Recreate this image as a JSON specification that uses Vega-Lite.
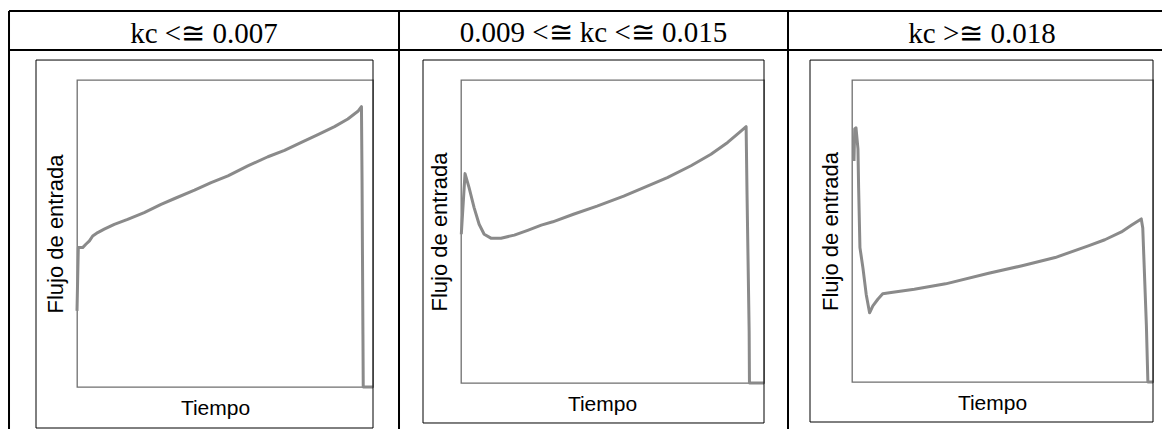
{
  "$schema": "https://vega.github.io/schema/vega-lite/v6.json",
  "padding": {"left": 7, "top": 9, "right": 0, "bottom": 0},
  "bounds": "flush",
  "spacing": 88,
  "background": "white",
  "config": {
    "view": {"stroke": "#6f6f6f", "strokeWidth": 1.3},
    "axis": {"grid": false, "titleFont": "Liberation Sans", "titleFontSize": 21, "titleFontWeight": "normal", "titleColor": "#000000", "titlePadding": 10},
    "axisY": {"titleFontSize": 22}
  },
  "datasets": {
    "bajo": [
      {"t": 0.0, "f": 24.8}, {"t": 0.44, "f": 45.4}, {"t": 1.9, "f": 45.4}, {"t": 3.0, "f": 46.5}, {"t": 4.2, "f": 47.6}, {"t": 5.3, "f": 49.2}, {"t": 7.0, "f": 50.3}, {"t": 9.2, "f": 51.4}, {"t": 12.6, "f": 53.0}, {"t": 17.1, "f": 54.6}, {"t": 22.7, "f": 56.8}, {"t": 28.4, "f": 59.5}, {"t": 33.0, "f": 61.4}, {"t": 39.7, "f": 64.1}, {"t": 45.3, "f": 66.6}, {"t": 51.0, "f": 68.8}, {"t": 57.7, "f": 72.0}, {"t": 64.5, "f": 75.0}, {"t": 70.1, "f": 77.1}, {"t": 75.8, "f": 79.7}, {"t": 81.4, "f": 82.2}, {"t": 87.0, "f": 84.8}, {"t": 91.5, "f": 87.3}, {"t": 94.9, "f": 89.8}, {"t": 96.1, "f": 91.3}, {"t": 96.3, "f": 67.1}, {"t": 96.6, "f": 17.1}, {"t": 96.7, "f": 0}, {"t": 100, "f": 0}
    ],
    "medio": [
      {"t": 0.1, "f": 49.1}, {"t": 1.33, "f": 69.1}, {"t": 2.66, "f": 64.5}, {"t": 4.32, "f": 57.9}, {"t": 5.98, "f": 52.4}, {"t": 7.64, "f": 49.1}, {"t": 9.87, "f": 47.8}, {"t": 13.2, "f": 47.8}, {"t": 17.6, "f": 48.8}, {"t": 22.0, "f": 50.4}, {"t": 26.5, "f": 52.1}, {"t": 30.3, "f": 53.2}, {"t": 37.1, "f": 55.7}, {"t": 44.9, "f": 58.4}, {"t": 53.7, "f": 61.7}, {"t": 61.5, "f": 65.0}, {"t": 68.1, "f": 67.8}, {"t": 75.9, "f": 71.7}, {"t": 82.5, "f": 75.5}, {"t": 88.0, "f": 79.4}, {"t": 91.9, "f": 82.7}, {"t": 94.1, "f": 84.6}, {"t": 94.4, "f": 62.3}, {"t": 95.1, "f": 17.1}, {"t": 95.2, "f": 0}, {"t": 100, "f": 0}
    ],
    "alto": [
      {"t": 0.66, "f": 73.2}, {"t": 0.9, "f": 83.8}, {"t": 1.32, "f": 84.2}, {"t": 1.98, "f": 77.2}, {"t": 2.2, "f": 64.3}, {"t": 2.64, "f": 44.5}, {"t": 3.63, "f": 37.8}, {"t": 4.72, "f": 29.0}, {"t": 5.84, "f": 22.9}, {"t": 6.93, "f": 25.2}, {"t": 8.58, "f": 27.4}, {"t": 10.2, "f": 29.2}, {"t": 13.0, "f": 29.6}, {"t": 20.7, "f": 30.7}, {"t": 31.1, "f": 32.5}, {"t": 45.4, "f": 36.0}, {"t": 56.5, "f": 38.5}, {"t": 67.5, "f": 41.2}, {"t": 78.5, "f": 45.1}, {"t": 84.0, "f": 47.1}, {"t": 89.5, "f": 49.7}, {"t": 92.8, "f": 51.9}, {"t": 96.1, "f": 54.0}, {"t": 96.6, "f": 51.0}, {"t": 97.8, "f": 18.8}, {"t": 98.3, "f": 0}, {"t": 100, "f": 0}
    ]
  },
  "hconcat": [
    {
      "width": 296, "height": 307,
      "encoding": {
        "x": {"type": "quantitative", "scale": {"domain": [0, 100]}, "axis": {"title": "Tiempo", "titleX": 138, "labels": false, "ticks": false, "domain": false}},
        "y": {"type": "quantitative", "scale": {"domain": [0, 100]}, "axis": {"title": "Flujo de entrada", "titlePadding": 10, "labels": false, "ticks": false, "domain": false}}
      },
      "layer": [
        {"data": {"name": "bajo"}, "mark": {"type": "line", "color": "#8a8a8a", "strokeWidth": 3, "strokeJoin": "round"},
         "encoding": {"x": {"field": "t", "type": "quantitative", "scale": {"domain": [0, 100]}, "axis": {"title": "Tiempo", "titleX": 138, "labels": false, "ticks": false, "domain": false}},
                      "y": {"field": "f", "type": "quantitative", "scale": {"domain": [0, 100]}, "axis": {"title": "Flujo de entrada", "titlePadding": 10, "labels": false, "ticks": false, "domain": false}}}},
        {"data": {"values": [{}]}, "mark": {"type": "rect", "filled": false, "color": "#000000", "strokeWidth": 1},
         "encoding": {"x": {"datum": -13.85}, "x2": {"datum": 100}, "y": {"datum": -13.36}, "y2": {"datum": 106.5}}},
        {"data": {"values": [{}]}, "mark": {"type": "rule", "color": "#000000", "strokeWidth": 2},
         "encoding": {"x": {"datum": -22.97}, "x2": {"datum": 108.78}, "y": {"datum": 122.48}}},
        {"data": {"values": [{}]}, "mark": {"type": "rule", "color": "#000000", "strokeWidth": 2},
         "encoding": {"x": {"datum": -22.97}, "x2": {"datum": 108.78}, "y": {"datum": 109.77}}},
        {"data": {"values": [{}]}, "mark": {"type": "rule", "color": "#000000", "strokeWidth": 2},
         "encoding": {"x": {"datum": -22.97}, "y": {"datum": -13.68}, "y2": {"datum": 122.48}}},
        {"data": {"values": [{"label": "kc <≅ 0.007"}]}, "mark": {"type": "text", "font": "Liberation Serif", "fontSize": 29, "align": "center", "baseline": "alphabetic", "color": "#000000"},
         "encoding": {"text": {"field": "label"}, "x": {"datum": 42.9}, "y": {"datum": 112.2}}}
      ]
    },
    {
      "width": 303, "height": 303,
      "encoding": {
        "x": {"type": "quantitative", "scale": {"domain": [0, 100]}, "axis": {"title": "Tiempo", "titleX": 141, "labels": false, "ticks": false, "domain": false}},
        "y": {"type": "quantitative", "scale": {"domain": [0, 100]}, "axis": {"title": "Flujo de entrada", "titlePadding": 10, "labels": false, "ticks": false, "domain": false}}
      },
      "layer": [
        {"data": {"name": "medio"}, "mark": {"type": "line", "color": "#8a8a8a", "strokeWidth": 3, "strokeJoin": "round"},
         "encoding": {"x": {"field": "t", "type": "quantitative", "scale": {"domain": [0, 100]}, "axis": {"title": "Tiempo", "titleX": 141, "labels": false, "ticks": false, "domain": false}},
                      "y": {"field": "f", "type": "quantitative", "scale": {"domain": [0, 100]}, "axis": {"title": "Flujo de entrada", "titlePadding": 10, "labels": false, "ticks": false, "domain": false}}}},
        {"data": {"values": [{}]}, "mark": {"type": "rect", "filled": false, "color": "#000000", "strokeWidth": 1},
         "encoding": {"x": {"datum": -12.54}, "x2": {"datum": 100}, "y": {"datum": -13.2}, "y2": {"datum": 106.6}}},
        {"data": {"values": [{}]}, "mark": {"type": "rule", "color": "#000000", "strokeWidth": 2},
         "encoding": {"x": {"datum": -20.46}, "x2": {"datum": 107.92}, "y": {"datum": 122.77}}},
        {"data": {"values": [{}]}, "mark": {"type": "rule", "color": "#000000", "strokeWidth": 2},
         "encoding": {"x": {"datum": -20.46}, "x2": {"datum": 107.92}, "y": {"datum": 109.9}}},
        {"data": {"values": [{}]}, "mark": {"type": "rule", "color": "#000000", "strokeWidth": 2},
         "encoding": {"x": {"datum": -20.46}, "y": {"datum": -15.18}, "y2": {"datum": 122.77}}},
        {"data": {"values": [{"label": "0.009 <≅  kc <≅ 0.015"}]}, "mark": {"type": "text", "font": "Liberation Serif", "fontSize": 29, "align": "center", "baseline": "alphabetic", "color": "#000000"},
         "encoding": {"text": {"field": "label"}, "x": {"datum": 43.73}, "y": {"datum": 112.38}}}
      ]
    },
    {
      "width": 301, "height": 302,
      "encoding": {
        "x": {"type": "quantitative", "scale": {"domain": [0, 100]}, "axis": {"title": "Tiempo", "titleX": 140, "labels": false, "ticks": false, "domain": false}},
        "y": {"type": "quantitative", "scale": {"domain": [0, 100]}, "axis": {"title": "Flujo de entrada", "titlePadding": 10, "labels": false, "ticks": false, "domain": false}}
      },
      "layer": [
        {"data": {"name": "alto"}, "mark": {"type": "line", "color": "#8a8a8a", "strokeWidth": 3, "strokeJoin": "round"},
         "encoding": {"x": {"field": "t", "type": "quantitative", "scale": {"domain": [0, 100]}, "axis": {"title": "Tiempo", "titleX": 140, "labels": false, "ticks": false, "domain": false}},
                      "y": {"field": "f", "type": "quantitative", "scale": {"domain": [0, 100]}, "axis": {"title": "Flujo de entrada", "titlePadding": 10, "labels": false, "ticks": false, "domain": false}}}},
        {"data": {"values": [{}]}, "mark": {"type": "rect", "filled": false, "color": "#000000", "strokeWidth": 1},
         "encoding": {"x": {"datum": -13.95}, "x2": {"datum": 100}, "y": {"datum": -13.25}, "y2": {"datum": 106.6}}},
        {"data": {"values": [{}]}, "mark": {"type": "rule", "color": "#000000", "strokeWidth": 2},
         "encoding": {"x": {"datum": -21.26}, "x2": {"datum": 103.0}, "y": {"datum": 122.85}}},
        {"data": {"values": [{}]}, "mark": {"type": "rule", "color": "#000000", "strokeWidth": 2},
         "encoding": {"x": {"datum": -21.26}, "x2": {"datum": 103.0}, "y": {"datum": 109.93}}},
        {"data": {"values": [{}]}, "mark": {"type": "rule", "color": "#000000", "strokeWidth": 2},
         "encoding": {"x": {"datum": -21.26}, "y": {"datum": -15.56}, "y2": {"datum": 122.85}}},
        {"data": {"values": [{"label": "kc >≅ 0.018"}]}, "mark": {"type": "text", "font": "Liberation Serif", "fontSize": 29, "align": "center", "baseline": "alphabetic", "color": "#000000"},
         "encoding": {"text": {"field": "label"}, "x": {"datum": 43.19}, "y": {"datum": 112.4}}}
      ]
    }
  ]
}
